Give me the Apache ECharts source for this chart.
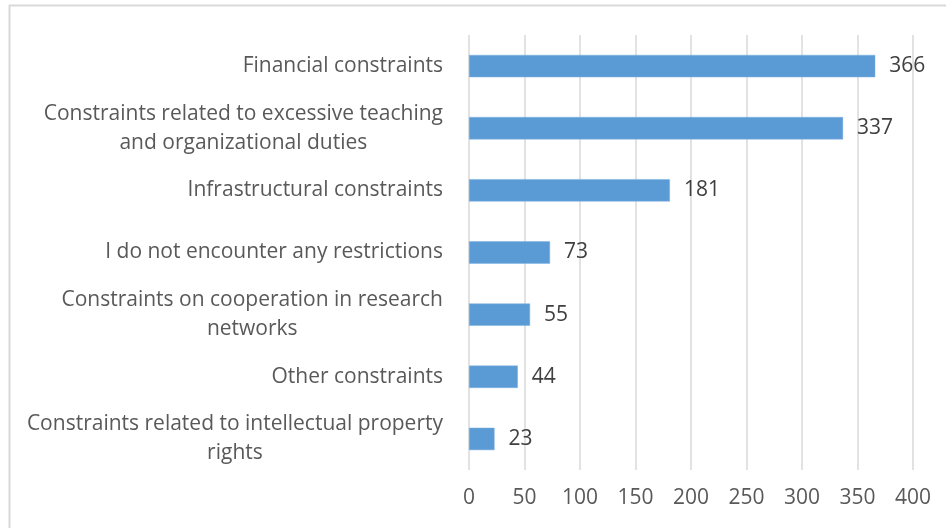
<!DOCTYPE html>
<html>
<head>
<meta charset="utf-8">
<script src="https://cdn.jsdelivr.net/npm/echarts@6/dist/echarts.min.js"></script>
<style>
  html, body { margin: 0; padding: 0; background: #ffffff; }
  #chart { width: 946px; height: 528px; }
</style>
</head>
<body>
<div id="chart"></div>
<script>
// Reported research constraints (number of respondents), listed top to bottom
const categories = [
  'Financial constraints',
  'Constraints related to excessive teaching\nand organizational duties',
  'Infrastructural constraints',
  'I do not encounter any restrictions',
  'Constraints on cooperation in research\nnetworks',
  'Other constraints',
  'Constraints related to intellectual property\nrights'
];
const counts = [366, 337, 181, 73, 55, 44, 23];
const xTicks = { min: 0, max: 400, step: 50 };

const FONT = '"Open Sans", "Noto Sans", sans-serif';

const chart = echarts.init(document.getElementById('chart'), null, { renderer: 'canvas' });

chart.setOption({
  animation: false,
  backgroundColor: '#ffffff',
  textStyle: { fontFamily: FONT },
  graphic: [{
    type: 'rect',
    shape: { x: 9.5, y: 5.5, width: 960, height: 560 },
    style: { fill: 'none', stroke: '#d9d9d9', lineWidth: 2 },
    silent: true
  }],
  grid: { left: 469, right: 33, top: 35, bottom: 58, containLabel: false },
  xAxis: {
    type: 'value',
    min: xTicks.min,
    max: xTicks.max,
    interval: xTicks.step,
    axisLine: { show: false },
    axisTick: { show: false },
    splitLine: { show: true, lineStyle: { color: '#d9d9d9', width: 1.5 } },
    axisLabel: { color: '#595959', fontSize: 21, fontFamily: FONT, margin: 18 }
  },
  yAxis: {
    type: 'category',
    data: categories,
    inverse: true,
    axisLine: { show: false },
    axisTick: { show: false },
    axisLabel: {
      margin: 26,
      align: 'right',
      fontFamily: FONT,
      color: '#595959',
      lineHeight: 29,
      formatter: function (v) {
        return v.split('\n').map(function (s) { return '{c|' + s + '}'; }).join('\n');
      },
      rich: {
        c: { align: 'center', fontSize: 21, color: '#595959', fontFamily: FONT, lineHeight: 29 }
      }
    }
  },
  series: [{
    type: 'bar',
    data: counts,
    barWidth: '36%',
    itemStyle: { color: '#5b9bd5', borderColor: '#7fb1e0', borderWidth: 0.5 },
    label: {
      show: true,
      position: 'right',
      distance: 14,
      color: '#404040',
      fontSize: 21,
      fontFamily: FONT
    }
  }]
});
</script>
</body>
</html>
